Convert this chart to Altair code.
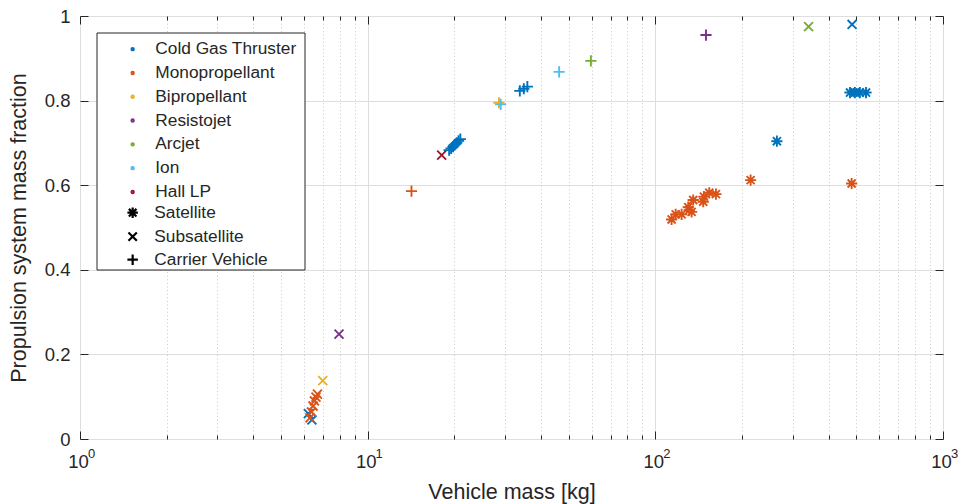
import altair as alt
import pandas as pd

# ---------------- data ----------------
propulsion_types = ["Cold Gas Thruster", "Monopropellant", "Bipropellant",
                    "Resistojet", "Arcjet", "Ion", "Hall LP"]
type_colors = ["#0072BD", "#D95319", "#EDB120", "#7E2F8E", "#77AC30", "#4DBEEE", "#A2142F"]
vehicle_kinds = ["Satellite", "Subsatellite", "Carrier Vehicle"]
kind_code = {"S": "Satellite", "U": "Subsatellite", "C": "Carrier Vehicle"}

cold_gas_mass = [19.2, 19.5, 19.8, 20.1, 20.4, 20.7, 21.0, 33.8, 34.9, 35.9,
                 264.6, 475, 494, 514, 540, 483, 6.22, 6.40]
cold_gas_frac = [0.683, 0.687, 0.691, 0.696, 0.700, 0.705, 0.709, 0.823, 0.828, 0.833,
                 0.704, 0.819, 0.819, 0.819, 0.819, 0.980, 0.060, 0.045]
cold_gas_kind = ["C"] * 10 + ["S"] * 5 + ["U"] * 3

mono_mass = [6.30, 6.38, 6.46, 6.53, 6.61, 6.69, 14.2,
             113.9, 117.7, 123.4, 130.1, 131.2, 133.7, 135.4, 146.7, 147.5, 154.0, 162.4,
             214.4, 481.3]
mono_frac = [0.050, 0.064, 0.078, 0.090, 0.099, 0.106, 0.586,
             0.519, 0.531, 0.531, 0.548, 0.541, 0.537, 0.565, 0.561, 0.573, 0.582, 0.579,
             0.612, 0.604]
mono_kind = ["U"] * 6 + ["C"] + ["S"] * 13

biprop_mass = [6.98, 28.6]
biprop_frac = [0.138, 0.795]
biprop_kind = ["U", "C"]

resisto_mass = [7.95, 150.0]
resisto_frac = [0.248, 0.955]
resisto_kind = ["U", "C"]

arcjet_mass = [341.0, 59.7]
arcjet_frac = [0.975, 0.894]
arcjet_kind = ["U", "C"]

ion_mass = [29.0, 46.3]
ion_frac = [0.791, 0.868]
ion_kind = ["C", "C"]

hall_mass = [18.08]
hall_frac = [0.671]
hall_kind = ["U"]

series = [
    ("Cold Gas Thruster", cold_gas_mass, cold_gas_frac, cold_gas_kind),
    ("Monopropellant", mono_mass, mono_frac, mono_kind),
    ("Bipropellant", biprop_mass, biprop_frac, biprop_kind),
    ("Resistojet", resisto_mass, resisto_frac, resisto_kind),
    ("Arcjet", arcjet_mass, arcjet_frac, arcjet_kind),
    ("Ion", ion_mass, ion_frac, ion_kind),
    ("Hall LP", hall_mass, hall_frac, hall_kind),
]

rows = []
for name, ms, fs, ks in series:
    for m, f, k in zip(ms, fs, ks):
        rows.append({"mass": m, "frac": f, "prop": name, "kind": kind_code[k]})
df = pd.DataFrame(rows)
df["order"] = range(len(df))

x_major = [1, 10, 100, 1000]
x_exponents = ["0", "1", "2", "3"]
x_minor = [m * d for d in (1, 10, 100) for m in range(2, 10)]
y_major = [0, 0.2, 0.4, 0.6, 0.8, 1]

# ---------------- style ----------------
W, H = 863, 423
INK = "#262626"
FONT = "Liberation Sans"
GRID = "#dedede"
MINOR = "#c8c8c8"
LABEL_SIZE = 18.5
TITLE_SIZE = 21.5

ASTERISK = "M-1,0L1,0M0,-1L0,1M-0.72,-0.72L0.72,0.72M-0.72,0.72L0.72,-0.72"
CROSS_X = "M-0.8,-0.8L0.8,0.8M-0.8,0.8L0.8,-0.8"
PLUS = "M-1,0L1,0M0,-1L0,1"

xscale = alt.Scale(type="log", domain=[1, 1000], nice=False)
yscale = alt.Scale(domain=[0, 1], nice=False, zero=False)

base = alt.Chart(df)

# major grid + "10" labels + titles
x_main_axis = alt.Axis(
    orient="bottom", values=x_major, grid=True, gridColor=GRID, gridWidth=1,
    ticks=False, tickSize=0, domain=False, labelFontSize=LABEL_SIZE, labelColor=INK,
    labelFont=FONT, labelFlush=False, labelOverlap=False, labelPadding=28,
    labelBaseline="alphabetic", labelOffset=-2, labelExpr="'10'",
    title="Vehicle mass [kg]", titleFontSize=TITLE_SIZE, titleFontWeight="normal",
    titleColor=INK, titleFont=FONT, titleBaseline="alphabetic", titleX=W / 2, titleY=59,
    titleAnchor="middle")
y_main_axis = alt.Axis(
    orient="left", values=y_major, format="~g", grid=True, gridColor=GRID, gridWidth=1,
    ticks=False, tickSize=0, domain=False, labelFontSize=LABEL_SIZE, labelColor=INK,
    labelFont=FONT, labelPadding=10, labelOverlap=False,
    title="Propulsion system mass fraction", titleFontSize=TITLE_SIZE,
    titleFontWeight="normal", titleColor=INK, titleFont=FONT, titleBaseline="alphabetic",
    titleX=-55, titleY=H / 2, titleAngle=270)

main_axes = base.mark_point(opacity=0).encode(
    x=alt.X("mass:Q", scale=xscale, axis=x_main_axis),
    y=alt.Y("frac:Q", scale=yscale, axis=y_main_axis))

# exponent labels (superscripts)
exp_expr = ("datum.value < 5 ? '%s' : datum.value < 50 ? '%s' : datum.value < 500 ? '%s' : '%s'"
            % tuple(x_exponents))
exp_axis = alt.Axis(
    orient="bottom", values=x_major, grid=False, ticks=False, tickSize=0, domain=False,
    labelFontSize=13, labelColor=INK, labelFont=FONT, labelFlush=False, labelOverlap=False,
    labelPadding=18, labelBaseline="alphabetic", labelOffset=11, labelExpr=exp_expr,
    title=None)
exp_layer = base.mark_point(opacity=0).encode(
    x=alt.X("mass:Q", scale=xscale, axis=exp_axis),
    y=alt.Y("frac:Q", scale=yscale, axis=None))

# minor x grid (dotted)
minor_grid = base.mark_point(opacity=0).encode(
    x=alt.X("mass:Q", scale=xscale, axis=alt.Axis(
        orient="bottom", values=x_minor, grid=True, gridColor=MINOR, gridDash=[1, 2.6],
        gridWidth=1, ticks=False, labels=False, domain=False, title=None)),
    y=alt.Y("frac:Q", scale=yscale, axis=None))


def tick_layer(xorient, xvals, xsize, yorient=None, ysize=0):
    xa = alt.Axis(orient=xorient, offset=-H, values=xvals, ticks=True, tickSize=xsize,
                  tickColor=INK, tickWidth=1, labels=False, domain=False, grid=False, title=None)
    if yorient:
        ya = alt.Axis(orient=yorient, offset=-W, values=y_major, ticks=True, tickSize=ysize,
                      tickColor=INK, tickWidth=1, labels=False, domain=False, grid=False,
                      title=None)
    else:
        ya = None
    return base.mark_point(opacity=0).encode(
        x=alt.X("mass:Q", scale=xscale, axis=xa),
        y=alt.Y("frac:Q", scale=yscale, axis=ya))


t1 = tick_layer("top", x_major, 8, "right", 8)      # bottom edge ticks, left edge ticks
t2 = tick_layer("bottom", x_major, 8, "left", 8)    # top edge ticks, right edge ticks
t3 = tick_layer("top", x_minor, 4)
t4 = tick_layer("bottom", x_minor, 4)

color_legend = alt.Legend(
    title=None, orient="none", legendX=44, legendY=24.5, padding=0,
    labelFontSize=17.3, labelColor=INK, labelFont=FONT, labelLimit=400,
    symbolType="circle", symbolSize=4, symbolStrokeWidth=2.4,
    rowPadding=5.8, labelOffset=14, zindex=1)
shape_legend = alt.Legend(
    title=None, orient="none", legendX=44, legendY=188, padding=0,
    labelFontSize=17.3, labelColor=INK, labelFont=FONT, labelLimit=400,
    symbolSize=110, symbolStrokeWidth=2.2, symbolStrokeColor="black",
    rowPadding=4.0, labelOffset=13, zindex=1)

points = base.mark_point(filled=False, size=125, strokeWidth=1.9, opacity=1).encode(
    x=alt.X("mass:Q", scale=xscale, axis=None),
    y=alt.Y("frac:Q", scale=yscale, axis=None),
    color=alt.Color("prop:N", scale=alt.Scale(domain=propulsion_types, range=type_colors),
                    legend=color_legend),
    shape=alt.Shape("kind:N", scale=alt.Scale(domain=vehicle_kinds,
                                              range=[ASTERISK, CROSS_X, PLUS]),
                    legend=shape_legend),
    order=alt.Order("order:Q"))

legend_box = alt.Chart(pd.DataFrame({"a": [0]})).mark_rect(
    fill="white", stroke=INK, strokeWidth=1).encode(
    x=alt.value(17), x2=alt.value(225), y=alt.value(17), y2=alt.value(254))

chart = alt.layer(minor_grid, main_axes, exp_layer, t1, t2, t3, t4, points,
                  legend_box).resolve_axis(
    x="independent", y="independent"
).properties(
    width=W, height=H,
    autosize=alt.AutoSizeParams(type="none"),
    padding={"left": 72, "top": 8, "right": 15, "bottom": 65},
).configure_view(stroke=INK, strokeWidth=1).configure(font=FONT, background="white")

chart.save("out.html", embed_options={"renderer": "svg", "actions": False})
